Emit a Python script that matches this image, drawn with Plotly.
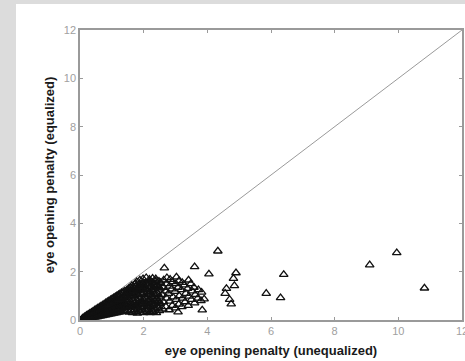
import plotly.graph_objects as go

# dense cluster of points (unequalized penalty, equalized penalty), read column by column
cluster_x = [0.05,0.07, 0.1,0.12,0.09, 0.15,0.17,0.14, 0.2,0.22,0.19,0.21, 0.25,0.27,0.24,0.26,
             0.3,0.32,0.29,0.31, 0.35,0.37,0.34,0.36, 0.4,0.42,0.39,0.41, 0.45,0.47,0.44,0.46,
             0.5,0.52,0.49,0.51, 0.55,0.57,0.54,0.56, 0.6,0.62,0.59,0.61, 0.65,0.67,0.64,0.66,
             0.7,0.72,0.69,0.71, 0.75,0.77,0.74,0.76, 0.8,0.82,0.79,0.81, 0.85,0.87,0.84,0.86,
             0.9,0.92,0.89,0.91, 0.95,0.97,0.94,0.96, 1.0,1.02,0.99,1.01, 1.05,1.07,1.04,1.06,
             1.1,1.12,1.09,1.11, 1.15,1.17,1.14,1.16, 1.2,1.22,1.19,1.21, 1.25,1.27,1.24,1.26,
             1.3,1.32,1.29,1.31, 1.35,1.37,1.34,1.36, 1.4,1.42,1.39,1.41,
             1.45,1.47,1.44,1.46,1.48, 1.5,1.52,1.49,1.51,1.53, 1.55,1.57,1.54,1.56,1.58,
             1.6,1.62,1.59,1.61,1.63, 1.65,1.67,1.64,1.66,1.68, 1.7,1.72,1.69,1.71,1.73,
             1.75,1.77,1.74,1.76,1.78, 1.8,1.82,1.79,1.81,1.83,1.78, 1.85,1.87,1.84,1.86,1.88,
             1.9,1.92,1.89,1.91,1.93,1.88, 1.95,1.97,1.94,1.96,1.98, 2.0,2.02,1.99,2.01,2.03,1.98,
             2.05,2.07,2.04,2.06,2.08, 2.1,2.12,2.09,2.11,2.13,2.08, 2.15,2.17,2.14,2.16,2.18,
             2.2,2.22,2.19,2.21,2.23,2.18, 2.25,2.27,2.24,2.26,2.28, 2.3,2.32,2.29,2.31,2.33,2.28,
             2.35,2.37,2.34,2.36,2.38, 2.4,2.42,2.39,2.41,2.43,2.38, 2.45,2.47,2.44,2.46,2.48,
             2.5,2.52,2.49,2.51,2.53, 2.6,2.62,2.58,2.61,2.63, 2.7,2.72,2.68,2.71,2.73,
             2.8,2.82,2.78,2.81,2.83, 2.9,2.92,2.88,2.91, 3.0,3.02,2.98,3.01,3.03,
             3.1,3.12,3.08,3.11, 3.2,3.22,3.18,3.21, 3.3,3.32,3.28, 3.4,3.42,3.38,3.41,
             3.5,3.52,3.48, 3.6,3.62,3.58, 3.7,3.72, 3.8,3.82]
cluster_y = [0.02,0.05, 0.03,0.07,0.08, 0.05,0.09,0.13, 0.06,0.11,0.16,0.19, 0.07,0.13,0.19,0.23,
             0.08,0.15,0.22,0.28, 0.1,0.17,0.25,0.32, 0.11,0.19,0.28,0.36, 0.12,0.21,0.31,0.41,
             0.13,0.23,0.34,0.45, 0.14,0.26,0.37,0.49, 0.16,0.28,0.4,0.53, 0.17,0.3,0.44,0.58,
             0.18,0.33,0.47,0.62, 0.2,0.35,0.5,0.66, 0.21,0.37,0.54,0.71, 0.22,0.4,0.57,0.75,
             0.24,0.42,0.6,0.79, 0.25,0.44,0.63,0.84, 0.26,0.46,0.67,0.88, 0.28,0.49,0.7,0.92,
             0.29,0.5,0.73,0.96, 0.3,0.53,0.76,1.0, 0.32,0.55,0.8,1.04, 0.33,0.58,0.83,1.08,
             0.34,0.6,0.86,1.12, 0.36,0.62,0.9,1.16, 0.37,0.65,0.93,1.2,
             0.35,0.62,0.9,1.15,1.25, 0.38,0.66,0.95,1.2,1.3, 0.32,0.58,0.85,1.1,1.35,
             0.4,0.7,1.0,1.28,1.42, 0.3,0.55,0.82,1.12,1.38, 0.42,0.72,1.02,1.3,1.5,
             0.35,0.62,0.9,1.2,1.45, 0.28,0.5,0.8,1.08,1.35,1.58, 0.4,0.68,0.98,1.25,1.5,
             0.32,0.58,0.88,1.15,1.42,1.65, 0.45,0.75,1.05,1.32,1.55, 0.3,0.55,0.85,1.12,1.4,1.7,
             0.4,0.68,0.98,1.25,1.52, 0.35,0.6,0.9,1.18,1.45,1.75, 0.45,0.75,1.05,1.32,1.6,
             0.3,0.55,0.85,1.12,1.4,1.68, 0.4,0.7,0.98,1.25,1.55, 0.35,0.62,0.9,1.2,1.48,1.72,
             0.45,0.78,1.05,1.35,1.62, 0.3,0.58,0.88,1.15,1.42,1.7, 0.5,0.8,1.1,1.38,1.6,
             0.38,0.68,0.98,1.28,1.55, 0.45,0.75,1.05,1.35,1.65, 0.55,0.9,1.2,1.5,1.75,
             0.42,0.78,1.1,1.4,1.68, 0.6,0.95,1.28,1.58, 0.5,0.85,1.18,1.5,1.78,
             0.65,1.0,1.35,1.62, 0.55,0.9,1.25,1.55, 0.75,1.1,1.45, 0.6,0.98,1.3,1.65,
             0.85,1.2,1.5, 0.7,1.05,1.35, 0.9,1.25, 0.8,1.15]

# extra points filling the interior of the cluster
fill_x = [0.28,0.28,0.33,0.33,0.38,0.38,0.43,0.43,0.48,0.48,0.53,0.53,0.58,0.58,0.63,0.63,
          0.68,0.68,0.73,0.73,0.78,0.78,0.83,0.83,0.88,0.88,0.93,0.93,0.98,0.98,1.03,1.03,
          1.08,1.08,1.13,1.13,1.18,1.18,1.23,1.23,1.28,1.28,1.33,1.33,1.38,1.38,1.43,1.43,
          1.48,1.48,1.58,1.58,1.68,1.68,1.78,1.78,1.88,1.88,1.98,1.98,2.08,2.08,2.18,2.18,
          2.28,2.28,2.38,2.38,2.48,2.48]
fill_y = [0.11,0.19,0.13,0.23,0.15,0.26,0.17,0.3,0.19,0.33,0.21,0.36,0.22,0.4,0.24,0.43,
          0.26,0.47,0.28,0.5,0.3,0.54,0.32,0.57,0.34,0.61,0.36,0.64,0.38,0.68,0.4,0.71,
          0.42,0.75,0.44,0.78,0.46,0.82,0.48,0.85,0.5,0.89,0.52,0.92,0.54,0.96,0.56,0.99,
          0.58,1.03,0.6,1.15,0.62,1.22,0.55,1.28,0.7,1.38,0.65,1.45,0.72,1.3,0.6,1.5,
          0.75,1.28,0.68,1.45,0.7,1.35]

# scattered points away from the cluster
outlier_x = [4.33,3.6,2.65,4.05,4.9,4.82,4.85,5.85,6.4,6.3,4.56,4.75,3.9,3.84,3.08,9.1,9.95,10.82,4.6,4.7]
outlier_y = [2.85,2.2,2.15,1.9,1.95,1.72,1.42,1.1,1.88,0.92,1.1,0.66,0.87,0.41,0.33,2.28,2.78,1.32,1.3,0.85]

diag = [0, 12]
tick_vals = [0, 2, 4, 6, 8, 10, 12]
tick_text = ["0", "2", "4", "6", "8", "10", "12"]

fig = go.Figure()
fig.add_trace(go.Scatter(x=diag, y=diag, mode="lines",
                         line=dict(color="#9a9a9a", width=1), hoverinfo="skip"))
fig.add_trace(go.Scatter(x=cluster_x + fill_x + outlier_x, y=cluster_y + fill_y + outlier_y,
                         mode="markers",
                         marker=dict(symbol="triangle-up-open", size=7.5,
                                     color="#111", line=dict(width=1.3, color="#111"))))

W, H = 465, 361
L, R, T, B = 80, 3, 30, 41
pw, ph = W - L - R, H - T - B

# white panel on the gray page
fig.add_shape(type="rect", xref="paper", yref="paper", layer="below",
              x0=(16 - L) / pw, x1=(W + 5 - L) / pw,
              y0=-(B + 5) / ph, y1=1 + (T - 4) / ph,
              fillcolor="white", line=dict(width=0))

axis_common = dict(range=[0, 12], tickvals=tick_vals, ticktext=tick_text,
                   showgrid=False, zeroline=False, showline=True, automargin=False,
                   linecolor="#9a9a9a", linewidth=1.5, mirror="ticks",
                   ticks="inside", ticklen=3, tickcolor="#9a9a9a", ticklabeloverflow="allow",
                   tickfont=dict(family="Arial, Liberation Sans", size=11, color="#a0a0a0"))

title_font = dict(family="Arial, Liberation Sans", size=13, color="#1a1a1a")

fig.update_layout(
    width=W, height=H,
    margin=dict(l=L, r=R, t=T, b=B),
    paper_bgcolor="#dcdcdc", plot_bgcolor="rgba(0,0,0,0)",
    showlegend=False,
    xaxis=dict(**axis_common,
               title=dict(text="<b>eye opening penalty (unequalized)</b>", standoff=10, font=title_font)),
    yaxis=dict(**axis_common,
               title=dict(text="<b>eye opening penalty (equalized)</b>", standoff=6, font=title_font)),
)

fig.write_html("out.html", config={"displayModeBar": False},
               post_script="document.body.style.margin='0';document.body.style.overflow='hidden';")
